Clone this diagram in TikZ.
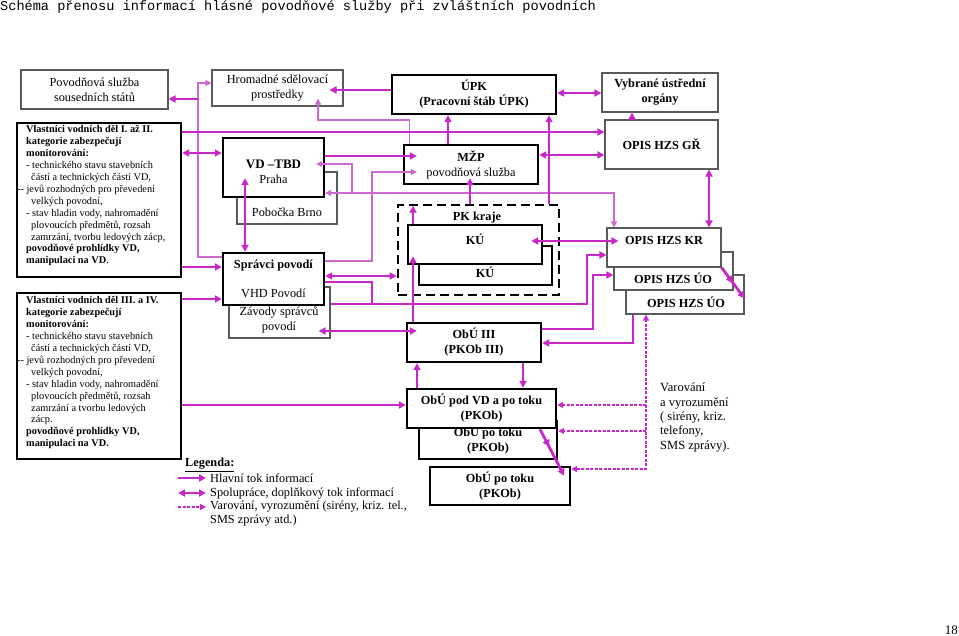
\documentclass[tikz,border=0pt]{standalone}
\usepackage{fontspec}
\setmainfont{Liberation Serif}
\newfontfamily\titlefont{Liberation Mono}
\usetikzlibrary{arrows.meta,decorations.markings,calc}
\definecolor{mag}{RGB}{200,40,200}
\definecolor{magthin}{RGB}{205,105,205}
\definecolor{boxgray}{RGB}{90,90,90}
\newcommand{\bxf}{\fontsize{12.3pt}{15pt}\selectfont}
\newcommand{\vlf}{\fontsize{10.3pt}{11.9pt}\selectfont}
\begin{document}
\begin{tikzpicture}[x=1pt,y=-1pt,
  thickbox/.style={draw=black,line width=2.4pt,fill=white,inner sep=0pt},
  thinbox/.style={draw=boxgray,line width=1.1pt,fill=white,inner sep=0pt},
  pkbox/.style={draw=black,line width=2.6pt,dash pattern=on 9pt off 5pt,inner sep=0pt},
  txt/.style={inner sep=0pt,font=\bxf},
  txtb/.style={inner sep=0pt,font=\bxf\bfseries},
  main/.style={mag,line width=2.8pt,-{Triangle[length=7pt,width=7pt]}},
  both/.style={mag,line width=2.8pt,{Triangle[length=7pt,width=7pt]}-{Triangle[length=7pt,width=7pt]}},
  plain/.style={mag,line width=2.8pt},
  mid/.style={mag,line width=2pt,-{Triangle[length=7pt,width=7pt]}},
  thinl/.style={magthin,line width=1.2pt},
  thinarrow/.style={magthin,line width=1.2pt,-{Triangle[length=6pt,width=6pt]}},
  thinboth/.style={magthin,line width=1.2pt,{Triangle[length=6pt,width=6pt]}-{Triangle[length=6pt,width=6pt]}},
  warn/.style={mag,line width=1.3pt,dash pattern=on 3pt off 1.5pt},
  warntip/.style={-{Triangle[length=6pt,width=6pt]}},
  midtip/.style={postaction={decorate,decoration={markings,mark=at position #1 with {\arrow{Triangle[length=7pt,width=7pt]}}}}}
]
\useasboundingbox (0,0) rectangle (959,636);

% title and page number
\node[anchor=base west,inner sep=0pt,font=\titlefont\fontsize{13.6pt}{15pt}\selectfont] (title) at (0,11) {Schéma přenosu informací hlásné povodňové služby při zvláštních povodních};
\node[anchor=base east,inner sep=0pt,font=\fontsize{13pt}{15pt}\selectfont] (pg) at (958,634) {18};

% left column
\node[thinbox,minimum width=147pt,minimum height=39pt,font=\bxf,align=center] (pss) at (94.5,89.5) {Povodňová služba\\sousedních států};
\node[thinbox,minimum width=131pt,minimum height=36pt,font=\bxf,align=center] (hsp) at (277.5,88) {Hromadné sdělovací\\prostředky};

\node[thickbox,minimum width=164pt,minimum height=154pt] (vl1) at (99,200) {};
\node[anchor=north west,inner sep=0pt,align=left,font=\vlf] (vl1t) at (26,125.5) {%
\textbf{Vlastníci vodních děl I. až II.}\\
\textbf{kategorie zabezpečují}\\
\textbf{monitorování:}\\
- technického stavu stavebních\\
\hspace*{5pt}částí a technických částí VD,\\
\hspace*{-9pt}-{}- jevů rozhodných pro převedení\\
\hspace*{5pt}velkých povodní,\\
- stav hladin vody, nahromadění\\
\hspace*{5pt}plovoucích předmětů, rozsah\\
\hspace*{5pt}zamrzání, tvorbu ledových zácp,\\
\textbf{povodňové prohlídky VD,}\\
\textbf{manipulaci na VD}.};

\node[thickbox,minimum width=164pt,minimum height=166pt] (vl2) at (99,376) {};
\node[anchor=north west,inner sep=0pt,align=left,font=\vlf] (vl2t) at (26,296.5) {%
\textbf{Vlastníci vodních děl III. a IV.}\\
\textbf{kategorie zabezpečují}\\
\textbf{monitorování:}\\
- technického stavu stavebních\\
\hspace*{5pt}částí a technických částí VD,\\
\hspace*{-9pt}-{}- jevů rozhodných pro převedení\\
\hspace*{5pt}velkých povodní,\\
- stav hladin vody, nahromadění\\
\hspace*{5pt}plovoucích předmětů, rozsah\\
\hspace*{5pt}zamrzání a tvorbu ledových\\
\hspace*{5pt}zácp.\\
\textbf{povodňové prohlídky VD,}\\
\textbf{manipulaci na VD.}};

\node[thinbox,minimum width=100pt,minimum height=52pt] (brno) at (287,198) {};
\node[thickbox,minimum width=101pt,minimum height=59pt] (vd) at (273.5,167.5) {};
\node[txt] (brnot) at (287,212) {Pobočka Brno};
\node[txt,align=center] (vdt) at (273.5,171.5) {{\fontsize{13pt}{14.5pt}\selectfont\bfseries VD –TBD}\\Praha};

\node[thinbox,minimum width=101pt,minimum height=51pt] (zav) at (279.5,312.5) {};
\node[thickbox,minimum width=101pt,minimum height=52pt,font=\bxf,align=center] (sp) at (273.5,279) {\textbf{Správci povodí}\\[14pt]VHD Povodí};
\node[txt,align=center] (zavt) at (279,319.5) {Závody správců\\povodí};

% centre column
\node[thickbox,minimum width=164pt,minimum height=39pt,font=\bxf\bfseries,align=center] (upk) at (474,94.5) {ÚPK\\(Pracovní štáb ÚPK)};
\node[thickbox,minimum width=134pt,minimum height=39pt,font=\bxf,align=center] (mzp) at (471,164.5) {\textbf{MŽP}\\povodňová služba};
\node[pkbox,minimum width=161pt,minimum height=90pt] (pk) at (478.5,250) {};
\node[txtb] (pkt) at (477,218) {PK kraje};
\node[thickbox,minimum width=133pt,minimum height=39pt] (ku2) at (485.5,265.5) {};
\node[thickbox,minimum width=134pt,minimum height=39pt] (ku1) at (475,244.5) {};
\node[txtb] (ku2t) at (485,272) {KÚ};
\node[txtb] (ku1t) at (475,239) {KÚ};

\node[thickbox,minimum width=134pt,minimum height=39pt,font=\bxf\bfseries,align=center] (obu3) at (474,342.5) {ObÚ III\\(PKOb III)};
\node[thickbox,minimum width=140pt,minimum height=38pt,font=\bxf\bfseries,align=center] (obt2) at (500,486) {ObÚ po toku\\(PKOb)};
\node[thickbox,minimum width=138pt,minimum height=38pt,font=\bxf\bfseries,align=center] (obt1) at (488,440) {ObÚ po toku\\(PKOb)};
\node[thickbox,minimum width=149pt,minimum height=39pt,font=\bxf\bfseries,align=center] (obvd) at (481.5,408.5) {ObÚ pod VD a po toku\\(PKOb)};

% right column
\node[thinbox,minimum width=116pt,minimum height=39pt,font=\bxf\bfseries,align=center] (vyb) at (660,92.5) {Vybrané ústřední\\orgány};
\node[thinbox,minimum width=113pt,minimum height=49pt,font=\bxf\bfseries] (gr) at (661.5,144.5) {OPIS HZS GŘ};
\node[thinbox,minimum width=118pt,minimum height=39pt] (uo2) at (685,294.5) {};
\node[thinbox,minimum width=119pt,minimum height=38pt] (uo1) at (673.5,271) {};
\node[thinbox,minimum width=114pt,minimum height=39pt] (kr) at (664,247.5) {};
\node[txtb] (krt) at (664,240) {OPIS HZS KR};
\node[txtb] (uo1t) at (673,278) {OPIS HZS ÚO};
\node[txtb] (uo2t) at (686,302) {OPIS HZS ÚO};

\node[anchor=west,align=left,inner sep=0pt,font=\fontsize{12.5pt}{14.4pt}\selectfont] (var) at (660,417.5) {Varování\\a vyrozumění\\( sirény, kriz.\\telefony,\\SMS zprávy).};

% ---------- connectors ----------
\draw[thinarrow] (sp.west |- 0,257) -- (198,257) -- (198,83) -- (hsp.west |- 0,83);
\draw[mid] (198,99) -- (pss.east |- 0,99);
\draw[main,shorten >=-14pt] (upk.west |- 0,90) -- (hsp.east |- 0,90);
\draw[thinarrow,shorten >=-8pt] ([xshift=7pt]mzp.north west) |- (318,120) -- (hsp.south -| 318,0);
\draw[main] (vl1.east |- 0,132) -- (gr.west |- 0,132);
\draw[both] (vl1.east |- 0,153) -- (vd.west |- 0,153);
\draw[main] (vl1.east |- 0,267) -- (sp.west |- 0,267);
\draw[main] (vl2.east |- 0,299) -- (sp.west |- 0,299);
\draw[main] (vl2.east |- 0,405) -- (obvd.west |- 0,405);
\draw[both,shorten <=-20pt] (vd.south -| 245,0) -- (sp.north -| 245,0);
\draw[main,shorten >=-14pt] (vd.east |- 0,156) -- (mzp.west |- 0,156);
\draw[thinarrow,shorten >=-14pt] (sp.east |- 0,261) -- (372,261) -- (372,172) -- (mzp.west |- 0,172);
\draw[thinboth] (kr.north -| 614,0) -- (614,193) -- (vd.east |- 0,193);
\draw[thinarrow,shorten >=-9pt] (352,193) -- (352,164) -- (vd.east |- 0,164);
\draw[both] (upk.east |- 0,93) -- (vyb.west |- 0,93);
\draw[main] (gr.north -| 632,0) -- (vyb.south -| 632,0);
\draw[main] (mzp.north -| 448,0) -- (upk.south -| 448,0);
\draw[main] (pk.north -| 549,0) -- (upk.south -| 549,0);
\draw[both] (mzp.east |- 0,155) -- (gr.west |- 0,155);
\draw[main,shorten >=-7pt] (pk.north -| 470,0) -- (mzp.south -| 470,0);
\draw[both] (gr.south -| 709,0) -- (kr.north -| 709,0);
\draw[main,shorten >=-9pt] (obu3.north -| 413,0) -- (ku1.south -| 413,0);
\draw[main,shorten >=2pt] (ku1.north -| 413,0) -- (pk.north -| 413,0);
\draw[both,shorten <=-12pt,shorten >=-12pt] (ku1.east |- 0,241) -- (kr.west |- 0,241);
\draw[both] (sp.east |- 0,276) -- (pk.west |- 0,276);
\draw[plain] (sp.east |- 0,282) -- (372,282) -- (372,304);
\draw[main] (zav.east |- 0,304) -- (587,304) -- (587,255) -- (kr.west |- 0,255);
\draw[main] (obu3.east |- 0,329) -- (593,329) -- (593,275) -- (uo1.west |- 0,275);
\draw[main] (uo2.south -| 633,0) -- (633,343) -- (obu3.east |- 0,343);
\draw[both,shorten <=-12pt,shorten >=-11pt] (zav.east |- 0,331) -- (obu3.west |- 0,331);
\draw[main] (obvd.north -| 417,0) -- (obu3.south -| 417,0);
\draw[main] (obu3.south -| 523,0) -- (obvd.north -| 523,0);
\draw[main,midtip=0.38] (obvd.south -| 540,0) -- ([xshift=-7pt,yshift=-10pt]obt2.north east);
\draw[main,midtip=0.5] (kr.south east) -- ([yshift=-4pt]uo2.east);
\draw[warn,{Triangle[length=6pt,width=6pt]}-{Triangle[length=6pt,width=6pt]}] (obt2.east |- 0,469) -| (uo2.south -| 646,0);
\draw[warn,warntip] (646,405) -- (obvd.east |- 0,405);
\draw[warn,warntip] (646,431) -- (obt1.east |- 0,431);

% ---------- legend ----------
\node[anchor=west,inner sep=0pt,font=\bxf\bfseries] (leg) at (185,465) {\underline{Legenda:}};
\coordinate (la1) at (178,478); \coordinate (lb1) at (206,478);
\coordinate (la2) at (178,493); \coordinate (lb2) at (206,493);
\coordinate (la3) at (178,507); \coordinate (lb3) at (206,507);
\draw[mid] (la1) -- (lb1);
\draw[mag,line width=2pt,{Triangle[length=7pt,width=7pt]}-{Triangle[length=7pt,width=7pt]}] (la2) -- (lb2);
\draw[warn,warntip] (la3) -- (lb3);
\node[anchor=west,inner sep=0pt,font=\bxf] (lt1) at (210,478) {Hlavní tok informací};
\node[anchor=west,inner sep=0pt,font=\bxf] (lt2) at (210,493) {Spolupráce, doplňkový tok informací};
\node[anchor=west,inner sep=0pt,font=\bxf] (lt3) at (210,507) {Varování, vyrozumění (sirény, kriz. tel.,};
\node[anchor=west,inner sep=0pt,font=\bxf] (lt4) at (210,521) {SMS zprávy atd.)};
\end{tikzpicture}
\end{document}
